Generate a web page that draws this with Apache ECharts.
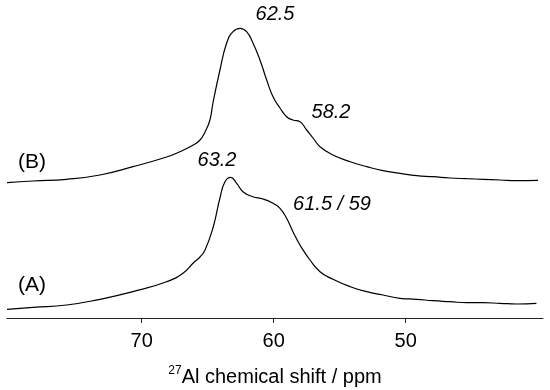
<!DOCTYPE html>
<html>
<head>
<meta charset="utf-8">
<script src="https://cdn.jsdelivr.net/npm/echarts@6/dist/echarts.min.js"></script>
<style>
html,body{margin:0;padding:0;background:#fff;}
#chart{width:550px;height:390px;}
</style>
</head>
<body>
<div id="chart"></div>
<script>
// Spectrum (B): chemical shift (ppm) and intensity (arbitrary units, offset trace)
const ppmB = [80.2, 78.23, 75.68, 73.16, 70.66, 68.11, 67.10, 66.09, 65.58, 65.20, 64.83, 64.60, 64.07, 63.56, 63.08, 62.55, 62.05, 61.57, 61.04, 60.53, 60.05, 59.52, 59.02, 58.54, 58.01, 57.50, 57.02, 56.49, 55.51, 54.20, 52.95, 51.72, 50.43, 49.17, 47.93, 46.64, 45.38, 44.14, 42.86, 41.59, 39.98];
const intensityB = [135.3, 137, 138.7, 143, 151.3, 161, 166.3, 173, 178, 186, 198, 215, 248, 275, 286.3, 289.7, 286.3, 275, 258, 238, 221.3, 210, 201.3, 198, 196.3, 188, 180, 171.3, 163, 156.3, 151.3, 147.3, 144.7, 142.3, 141.3, 140, 139.3, 138.7, 138, 137.3, 137.7];

// Spectrum (A)
const ppmA = [80.2, 78.23, 75.68, 73.16, 70.66, 68.11, 66.87, 66.09, 65.58, 65.20, 64.60, 64.07, 63.69, 63.26, 62.80, 62.33, 61.57, 60.81, 60.05, 59.52, 59.02, 58.54, 58.01, 57.25, 56.49, 55.51, 54.20, 52.95, 51.72, 50.43, 49.17, 47.93, 46.64, 45.38, 44.14, 42.86, 41.59, 40.10];
const intensityA = [8.7, 10.7, 13, 18.7, 26.3, 36.3, 44.7, 55, 61, 68, 90, 120, 136.3, 140.7, 134.7, 126.3, 121.3, 119, 114.7, 109.7, 99.7, 86.3, 73, 58, 46.3, 38.7, 31.3, 26.3, 23, 19.7, 18.7, 17.3, 16.3, 15.3, 15.3, 14.7, 14, 14.7];

// Axis ticks
const tickValues = [50, 60, 70];
const axisMin = 39.6;
const axisMax = 80.2;

// Annotations
const peakLabels = ['62.5', '58.2', '63.2', '61.5 / 59'];
const traceLabels = ['(B)', '(A)'];

const FONT = "'Liberation Sans', Arial, sans-serif";
const FS = 20;

function zip(xs, ys) { return xs.map((x, i) => [x, ys[i]]); }

const chart = echarts.init(document.getElementById('chart'), null, {renderer: 'canvas'});

function txt(text, x, y, italic, size) {
  return {
    type: 'text', x: x, y: y,
    style: {
      text: text, align: 'center', verticalAlign: 'middle',
      fontSize: size || FS, fontStyle: italic ? 'italic' : 'normal',
      fontFamily: FONT, fill: '#000'
    }
  };
}

chart.setOption({
  animation: false,
  backgroundColor: '#fff',
  grid: {left: 7, right: 7, top: 0, bottom: 72, containLabel: false, outerBoundsMode: 'none'},
  xAxis: {
    type: 'value', inverse: true, min: axisMin, max: axisMax,
    splitLine: {show: false},
    axisLine: {show: true, onZero: false, lineStyle: {color: '#222', width: 1}},
    axisTick: {show: true, customValues: tickValues, length: 5, lineStyle: {color: '#222'}},
    axisLabel: {show: true, customValues: tickValues, fontSize: FS, fontFamily: FONT, color: '#000', margin: 13},
    name: '{sup|27}{main|Al chemical shift / ppm}',
    nameLocation: 'middle', nameGap: 47, nameMoveOverlap: false,
    nameTextStyle: {
      rich: {
        sup: {fontSize: 12, fontFamily: FONT, color: '#000', verticalAlign: 'top', lineHeight: 24},
        main: {fontSize: FS, fontFamily: FONT, color: '#000', lineHeight: 24}
      }
    }
  },
  yAxis: {type: 'value', min: 0, max: 318, show: false},
  series: [
    {type: 'line', data: zip(ppmB, intensityB), showSymbol: false, smooth: 0.5,
     lineStyle: {color: '#000', width: 1.2}},
    {type: 'line', data: zip(ppmA, intensityA), showSymbol: false, smooth: 0.5,
     lineStyle: {color: '#000', width: 1.2}}
  ],
  graphic: [
    txt(peakLabels[0], 275, 14, true),
    txt(peakLabels[1], 331, 112, true),
    txt(peakLabels[2], 217, 160, true),
    txt(peakLabels[3], 332, 204, true),
    txt(traceLabels[0], 32, 162, false, 21),
    txt(traceLabels[1], 32, 285, false, 21)
  ]
});
</script>
</body>
</html>
